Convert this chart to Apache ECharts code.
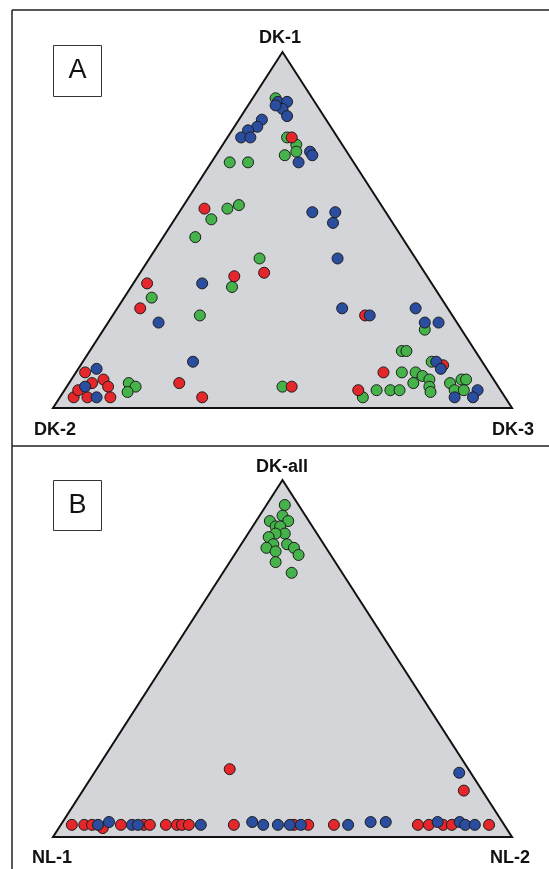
<!DOCTYPE html>
<html>
<head>
<meta charset="utf-8">
<script src="https://cdn.jsdelivr.net/npm/echarts@6/dist/echarts.min.js"></script>
<style>
html,body{margin:0;padding:0;background:#fff;}
#chart{width:549px;height:869px;}
</style>
</head>
<body>
<div id="chart"></div>
<script>
// Ternary compositions in percent: [top vertex share, right vertex share]; left = 100 - top - right
// Panel A: top = DK-1, left = DK-2, right = DK-3
var vertexLabelsA = ['DK-1', 'DK-2', 'DK-3'];
var vertexLabelsB = ['DK-all', 'NL-1', 'NL-2'];
var panelLetters = ['A', 'B'];

var redA = [[76,14],[56,5],[38,27],[35,3],[37,21],[28,5],[26,55],[12,79],[10,67],[5,64],[6,49],[7,24],[3,31],
  [10,2],[8,7],[7,5],[6,9],[3,3],[3,6],[3,11],[5,3]];
var greenA = [[87,5],[69,4],[69,8],[76,13],[74,16],[72,17],[71,15],[53,8],[56,10],[57,12],[48,7],[42,24],[34,22],
  [31,6],[26,19],[22,70],[16,68],[16,69],[13,76],[10,71],[10,74],[9,76],[8,78],[7,75],[6,79],[4.5,80],[7,83],
  [8,85],[8,86],[5,85],[5,87],[5,68],[5,71],[5,73],[3,66],[6,47],[7,13],[6,15],[4.5,14]];
var blueA = [[86,6],[86,8],[84,8],[85,6],[82,10],[81,5],[79,5],[78,3.5],[76,3],[76,5],[72,20],[71,21],[69,19],
  [55,29],[55,34],[52,35],[42,41],[35,15],[24,11],[28,49],[26,56],[28,65],[24,69],[24,72],[13,24],[13,77],
  [11,79],[5,90],[3,86],[3,90],[11,4],[6,4],[3,8]];

// Panel B: top = DK-all, left = NL-1, right = NL-2
var greenB = [[93,4],[90,5],[88.5,3],[88.5,7],[87,5],[87,6],[85,8],[85,6],[84,5],[82,7],[82,10],[81,6],[80,8.5],
  [81,12],[79,14],[77,10],[74,15]];
var redB = [[19,29],[13,83],[3.4,2.4],[3.4,5.1],[3.4,6.8],[3.4,13.1],[3.4,18.1],[3.4,19.4],[3.4,22.9],[3.4,25.3],
  [3.4,26.4],[3.4,27.9],[3.4,37.7],[3.4,50.8],[3.4,53.9],[3.4,59.5],[3.4,77.8],[3.4,80.2],[3.4,83.3],[3.4,85.2],
  [3.4,93.3],[2.5,9.6]];
var blueB = [[18,79.5],[3.4,8.1],[4.2,10.1],[3.4,15.5],[3.4,16.8],[3.4,30.5],[4.2,41.3],[3.4,44.1],[3.4,47.3],
  [3.4,49.9],[3.4,52.3],[3.4,62.6],[4.2,67.1],[4.2,70.4],[4.2,81.7],[4.2,86.5],[3.4,88.1],[3.4,90.2]];

var triangle = [[0,0],[100,0],[50,100]];

function toXY(arr){
  return arr.map(function(p){ return [p[1] + p[0]/2, p[0]]; });
}

var RED = '#e5262a', GREEN = '#46b34a', BLUE = '#2b4d9f';

function scatter(idx, data, color){
  return {
    type:'scatter', xAxisIndex:idx, yAxisIndex:idx, data: toXY(data),
    symbol:'circle', symbolSize:11, z:3,
    itemStyle:{color:color, borderColor:'#1e1e1e', borderWidth:1, opacity:1},
    emphasis:{disabled:true}, animation:false
  };
}
function tri(idx){
  return {
    type:'custom', xAxisIndex:idx, yAxisIndex:idx, data: triangle, z:1,
    renderItem:function(params, api){
      if(params.dataIndex !== 0) return null;
      var pts = triangle.map(function(p){ return api.coord(p); });
      return {type:'polygon', shape:{points:pts},
        style:{fill:'#d3d5d8', stroke:'#111', lineWidth:2}};
    },
    animation:false, silent:true
  };
}
function axisX(idx){ return {type:'value', gridIndex:idx, min:0, max:100, show:false}; }
function axisY(idx){ return {type:'value', gridIndex:idx, min:0, max:100, show:false}; }

var labelStyle = {fontFamily:'Liberation Sans, Arial, sans-serif', fontSize:18, fontWeight:'bold', fill:'#111', align:'center', verticalAlign:'middle'};
function txt(t, x, y){ return {type:'text', x:x, y:y, style:Object.assign({text:t}, labelStyle), silent:true}; }

var chart = echarts.init(document.getElementById('chart'), null, {renderer:'canvas'});
chart.setOption({
  backgroundColor:'#ffffff',
  animation:false,
  grid:[
    {left:53, top:52, width:459, height:356},
    {left:53, top:480, width:459, height:357}
  ],
  xAxis:[axisX(0), axisX(1)],
  yAxis:[axisY(0), axisY(1)],
  series:[
    tri(0), scatter(0, greenA, GREEN), scatter(0, redA, RED), scatter(0, blueA, BLUE),
    tri(1), scatter(1, greenB, GREEN), scatter(1, redB, RED), scatter(1, blueB, BLUE)
  ],
  graphic:[
    {type:'line', shape:{x1:12, y1:10, x2:549, y2:10}, style:{stroke:'#222', lineWidth:1.5}, silent:true},
    {type:'line', shape:{x1:12, y1:10, x2:12, y2:869}, style:{stroke:'#222', lineWidth:1.5}, silent:true},
    {type:'line', shape:{x1:12, y1:446, x2:549, y2:446}, style:{stroke:'#222', lineWidth:1.5}, silent:true},
    {type:'rect', shape:{x:53.5, y:45.5, width:48, height:51}, style:{fill:'#fff', stroke:'#333', lineWidth:1}, silent:true},
    {type:'rect', shape:{x:53.5, y:480.5, width:48, height:50}, style:{fill:'#fff', stroke:'#333', lineWidth:1}, silent:true},
    {type:'text', x:77.5, y:71, style:{text:panelLetters[0], fontFamily:'Liberation Sans, Arial, sans-serif', fontSize:27, fill:'#111', align:'center', verticalAlign:'middle'}, silent:true},
    {type:'text', x:77.5, y:506, style:{text:panelLetters[1], fontFamily:'Liberation Sans, Arial, sans-serif', fontSize:27, fill:'#111', align:'center', verticalAlign:'middle'}, silent:true},
    txt(vertexLabelsA[0], 280, 38),
    txt(vertexLabelsA[1], 55, 430),
    txt(vertexLabelsA[2], 513, 430),
    txt(vertexLabelsB[0], 282, 467),
    txt(vertexLabelsB[1], 52, 858),
    txt(vertexLabelsB[2], 510, 858)
  ]
});
</script>
</body>
</html>
